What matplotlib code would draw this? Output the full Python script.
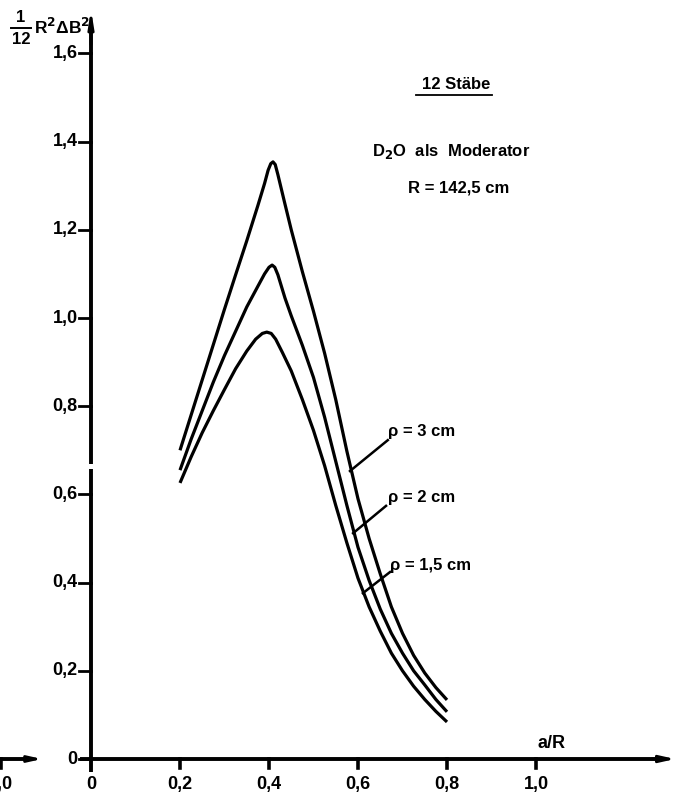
import matplotlib
matplotlib.use("Agg")
import matplotlib.pyplot as plt
from matplotlib.lines import Line2D

plt.rcParams['font.family'] = ['Liberation Sans Narrow', 'Liberation Sans', 'DejaVu Sans']
plt.rcParams['mathtext.fontset'] = 'custom'
plt.rcParams['mathtext.rm'] = 'Liberation Sans Narrow:bold'
plt.rcParams['mathtext.bf'] = 'Liberation Sans Narrow:bold'

# a/R values and 1/12 R^2 dB^2 read for the three rod radii
x_rho3 = [0.200, 0.225, 0.250, 0.275, 0.300, 0.325, 0.350, 0.375, 0.390, 0.398, 0.404,
          0.409, 0.414, 0.420, 0.435, 0.450, 0.475, 0.500, 0.525, 0.550, 0.575, 0.600,
          0.625, 0.650, 0.675, 0.700, 0.725, 0.750, 0.775, 0.800]
y_rho3 = [0.700, 0.780, 0.860, 0.940, 1.020, 1.098, 1.175, 1.255, 1.305, 1.335, 1.350,
          1.354, 1.348, 1.325, 1.262, 1.200, 1.105, 1.015, 0.920, 0.815, 0.698, 0.590,
          0.500, 0.420, 0.345, 0.285, 0.235, 0.195, 0.162, 0.134]

x_rho2 = [0.200, 0.225, 0.250, 0.275, 0.300, 0.325, 0.350, 0.375, 0.390, 0.400, 0.407,
          0.413, 0.420, 0.436, 0.450, 0.475, 0.500, 0.525, 0.550, 0.575, 0.600, 0.625,
          0.650, 0.675, 0.700, 0.725, 0.750, 0.775, 0.800]
y_rho2 = [0.655, 0.725, 0.790, 0.855, 0.915, 0.970, 1.025, 1.072, 1.100, 1.115, 1.120,
          1.115, 1.098, 1.045, 1.005, 0.938, 0.865, 0.775, 0.675, 0.575, 0.480, 0.405,
          0.340, 0.285, 0.240, 0.200, 0.168, 0.135, 0.107]

x_rho15 = [0.200, 0.225, 0.250, 0.275, 0.300, 0.325, 0.350, 0.370, 0.385, 0.395, 0.405,
           0.415, 0.430, 0.450, 0.475, 0.500, 0.525, 0.550, 0.575, 0.600, 0.625, 0.650,
           0.675, 0.700, 0.725, 0.750, 0.775, 0.800]
y_rho15 = [0.626, 0.685, 0.740, 0.790, 0.838, 0.885, 0.925, 0.952, 0.965, 0.968, 0.965,
           0.952, 0.922, 0.880, 0.815, 0.745, 0.665, 0.575, 0.490, 0.410, 0.345, 0.290,
           0.240, 0.200, 0.165, 0.135, 0.108, 0.084]

xticks = [0, 0.2, 0.4, 0.6, 0.8, 1.0]
xtick_labels = ["0", "0,2", "0,4", "0,6", "0,8", "1,0"]
yticks = [0, 0.2, 0.4, 0.6, 0.8, 1.0, 1.2, 1.4, 1.6]
ytick_labels = ["0", "0,2", "0,4", "0,6", "0,8", "1,0", "1,2", "1,4", "1,6"]

W, H = 682, 807
fig = plt.figure(figsize=(W / 100, H / 100), dpi=100)
fig.patch.set_facecolor("white")

# origin at (91, 759) px, 445 px per unit in x, 441 px per unit in y
ax = fig.add_axes([91 / W, (H - 759) / H, 1.33 * 445 / W, 1.72 * 441 / H])
ax.set_xlim(0, 1.33)
ax.set_ylim(0, 1.72)
ax.axis("off")

lw_curve = 2.3
for xs, ys in [(x_rho3, y_rho3), (x_rho2, y_rho2), (x_rho15, y_rho15)]:
    ax.plot(xs, ys, color="black", lw=lw_curve, solid_joinstyle="round",
            solid_capstyle="butt", clip_on=False)

# axes drawn by hand, y axis with the small break near 0,66
kw = dict(color="black", lw=2.8, clip_on=False, solid_capstyle="butt")
ax.plot([0, 0], [-0.03, 0.658], **kw)
ax.plot([0, 0], [0.669, 1.66], **kw)
ax.plot([-0.025, 1.28], [0, 0], **kw)
ax.annotate("", xy=(0, 1.70), xytext=(0, 1.62),
            arrowprops=dict(arrowstyle="-|>,head_length=1.0,head_width=0.16",
                            color="black", lw=2.0, shrinkA=0, shrinkB=0),
            annotation_clip=False)
ax.annotate("", xy=(1.313, 0), xytext=(1.26, 0),
            arrowprops=dict(arrowstyle="-|>,head_length=0.9,head_width=0.2",
                            color="black", lw=2.0, shrinkA=0, shrinkB=0),
            annotation_clip=False)

tick_font = dict(fontsize=13, fontweight="bold")
for xv, lab in zip(xticks, xtick_labels):
    if xv > 0:
        ax.plot([xv, xv], [0, -0.02], color="black", lw=2.6, clip_on=False)
    ax.text(xv, -0.058, lab, ha="center", va="center", **tick_font)
for yv, lab in zip(yticks, ytick_labels):
    ax.plot([-0.027, 0], [yv, yv], color="black", lw=2.0, clip_on=False)
    ax.text(-0.03, yv, lab, ha="right", va="center", **tick_font)

# edge of the neighbouring diagram on the left
ax.plot([-0.21, -0.13], [0, 0], **kw)
ax.annotate("", xy=(-0.11, 0), xytext=(-0.14, 0),
            arrowprops=dict(arrowstyle="-|>,head_length=0.8,head_width=0.18",
                            color="black", lw=2.0, shrinkA=0, shrinkB=0),
            annotation_clip=False)
ax.plot([-0.203, -0.203], [0, -0.02], color="black", lw=2.6, clip_on=False)
ax.text(-0.176, -0.058, "1,0", ha="right", va="center", **tick_font)

ax.text(1.036, 0.015, "a/R", ha="center", va="bottom", fontsize=13, fontweight="bold")

# y axis title
def fpos(px, py):
    return px / W, 1 - py / H

fig.text(*fpos(21, 18), "1", ha="center", va="center", fontsize=12, fontweight="bold")
fig.add_artist(Line2D([11 / W, 31 / W], [1 - 28 / H, 1 - 28 / H], color="black", lw=1.4))
fig.text(*fpos(21, 39), "12", ha="center", va="center", fontsize=12, fontweight="bold")
fig.text(*fpos(34, 27), r"R$^{\mathbf{2}}$ΔB$^{\mathbf{2}}$", ha="left", va="center",
         fontsize=12.5, fontweight="bold")

# header texts
ax.text(0.82, 1.53, "12 Stäbe", ha="center", va="center", fontsize=12, fontweight="bold")
ax.plot([0.73, 0.90], [1.505, 1.505], color="black", lw=1.3)
ax.text(0.81, 1.378, "D$_\\mathbf{2}$O  als  Moderator", ha="center", va="center",
        fontsize=12, fontweight="bold")
ax.text(0.826, 1.295, "R = 142,5 cm", ha="center", va="center", fontsize=12, fontweight="bold")

# curve labels with leader lines
labels = [("ρ = 3 cm", (0.667, 0.742), (0.667, 0.723), (0.582, 0.653)),
          ("ρ = 2 cm", (0.667, 0.594), (0.663, 0.574), (0.589, 0.512)),
          ("ρ = 1,5 cm", (0.672, 0.438), (0.672, 0.424), (0.611, 0.376))]
for text, tpos, p0, p1 in labels:
    ax.text(tpos[0], tpos[1], text, ha="left", va="center", fontsize=12, fontweight="bold")
    ax.plot([p0[0], p1[0]], [p0[1], p1[1]], color="black", lw=1.8)

fig.savefig("out.png", dpi=100, facecolor="white")
